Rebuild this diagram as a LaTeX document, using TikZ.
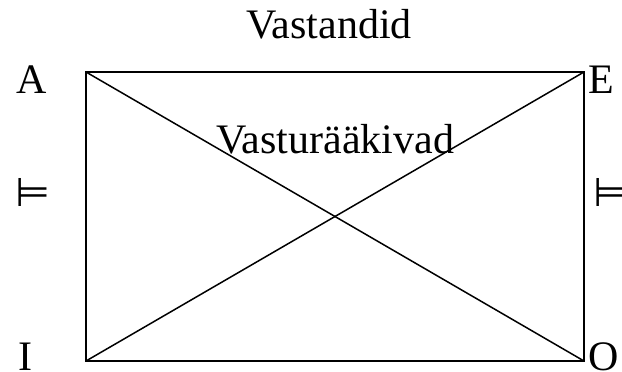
\documentclass[tikz,border=0pt]{standalone}
\usepackage{fontspec}
\setmainfont{Liberation Serif}
\newfontfamily\symfont{DejaVu Sans}
\usetikzlibrary{calc}

\begin{document}
\begin{tikzpicture}[x=1pt,y=-1pt,line width=1.5pt,
  lbl/.style={inner sep=0pt,font=\fontsize{42}{50}\selectfont},
  sym/.style={inner sep=0pt,font=\symfont\fontsize{40}{48}\selectfont}]
\useasboundingbox(0,0)rectangle(622,372);
\coordinate(a)at(86,72);\coordinate(e)at(584,72);
\coordinate(i)at(86,361);\coordinate(o)at(584,361);
\draw(a)--(e)--(o)--(i)--cycle;
\draw(a)--(o);\draw(i)--(e);
\node[lbl,anchor=base](top)at(329,38){Vastandid};
\node[lbl,anchor=base](mid)at(335,153){Vasturääkivad};
\node[lbl,anchor=base](la)at(32,93){A};\node[lbl,anchor=base west](le)at(588,93){E};
\node[lbl,anchor=base](li)at(25,370){I};\node[lbl,anchor=base west](lo)at(588,370){O};
\node[sym](vl)at(33,192){⊨};\node[sym,anchor=west](vr)at(593,192){⊨};
\end{tikzpicture}
\end{document}
